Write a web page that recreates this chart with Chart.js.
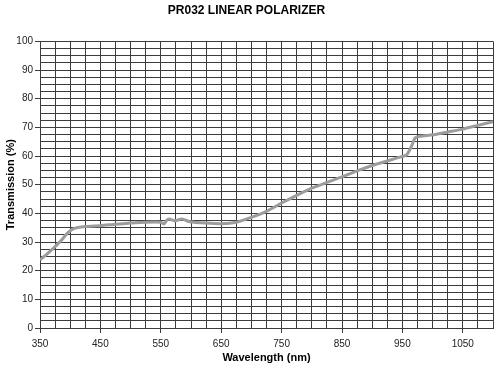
<!DOCTYPE html>
<html>
<head>
<meta charset="utf-8">
<script src="https://cdn.jsdelivr.net/npm/chart.js@4/dist/chart.umd.min.js"></script>
<style>
  html, body { margin: 0; padding: 0; background: #fff; }
  #wrap { width: 500px; height: 375px; }
</style>
</head>
<body>
<div id="wrap"><canvas id="polChart"></canvas></div>
<script>
// wavelength (nm) and transmission (%)
const wavelengths = [350, 360, 375, 385, 395, 405, 425, 450, 475, 500, 525, 550, 555, 560, 564, 573, 585, 598, 625, 650, 675, 700, 725, 750, 775, 800, 825, 850, 875, 900, 925, 946, 957, 965, 971, 979, 1000, 1025, 1050, 1075, 1100];
const transmission = [23.8, 25.5, 28.4, 30.5, 33.0, 34.6, 35.4, 35.7, 36.2, 36.6, 36.9, 36.9, 36.3, 37.6, 38.0, 37.4, 38.0, 37.1, 36.6, 36.4, 36.9, 38.6, 40.7, 43.6, 46.3, 48.8, 50.8, 52.7, 54.8, 56.7, 58.3, 59.6, 60.4, 63.4, 66.3, 66.9, 67.4, 68.4, 69.4, 70.7, 72.0];

const xLabelStep = 100;   // labelled every 100 nm starting at 350
const yLabelStep = 10;

const points = wavelengths.map((w, i) => ({ x: w, y: transmission[i] }));

const isXLabel = (v) => Math.abs((v - 350) % xLabelStep) < 1e-6;
const isYLabel = (v) => Math.abs(v % yLabelStep) < 1e-6;

const fontFamily = "'Liberation Sans', Arial, sans-serif";
const gridColor = "#3c3c3c";

const ctx = document.querySelector("#polChart").getContext("2d");
new Chart(ctx, {
  type: "line",
  data: {
    datasets: [{
      label: "PR032",
      data: points,
      borderColor: "#9c9c9c",
      borderWidth: 3,
      pointRadius: 0,
      tension: 0.2,
      fill: false
    }]
  },
  options: {
    responsive: true,
    maintainAspectRatio: false,
    animation: false,
    layout: { padding: { left: 0, right: 7, top: 0, bottom: 0 } },
    plugins: {
      legend: { display: false },
      tooltip: { enabled: false },
      title: {
        display: true,
        text: "PR032 LINEAR POLARIZER",
        color: "#000",
        font: { family: fontFamily, size: 12, weight: "bold" },
        padding: { top: 3, bottom: 24 }
      }
    },
    scales: {
      x: {
        type: "linear",
        min: 350,
        max: 1100,
        afterFit: (scale) => { scale.height = 47; },
        ticks: {
          stepSize: 25,
          autoSkip: false,
          maxRotation: 0,
          padding: 5,
          color: "#222",
          font: { family: fontFamily, size: 10 },
          callback: (v) => (isXLabel(v) ? String(v) : "")
        },
        grid: {
          color: gridColor,
          lineWidth: 1,
          tickLength: 5,
          tickColor: (c) => (c.tick && isXLabel(c.tick.value) ? gridColor : "rgba(0,0,0,0)")
        },
        border: { color: gridColor },
        title: {
          display: true,
          text: "Wavelength (nm)",
          color: "#000",
          font: { family: fontFamily, size: 11, weight: "bold" },
          padding: { top: 2, bottom: 10 }
        }
      },
      y: {
        min: 0,
        max: 100,
        afterFit: (scale) => { scale.width = 40; },
        ticks: {
          stepSize: 2.5,
          autoSkip: false,
          padding: 2,
          color: "#222",
          font: { family: fontFamily, size: 10 },
          callback: (v) => (isYLabel(v) ? String(Math.round(v)) : "")
        },
        grid: {
          color: gridColor,
          lineWidth: 1,
          tickLength: 5,
          tickColor: (c) => (c.tick && isYLabel(c.tick.value) ? gridColor : "rgba(0,0,0,0)")
        },
        border: { color: gridColor },
        title: {
          display: true,
          text: "Transmission (%)",
          color: "#000",
          font: { family: fontFamily, size: 11, weight: "bold" },
          padding: { top: 4, bottom: 0 }
        }
      }
    }
  }
});
</script>
</body>
</html>
